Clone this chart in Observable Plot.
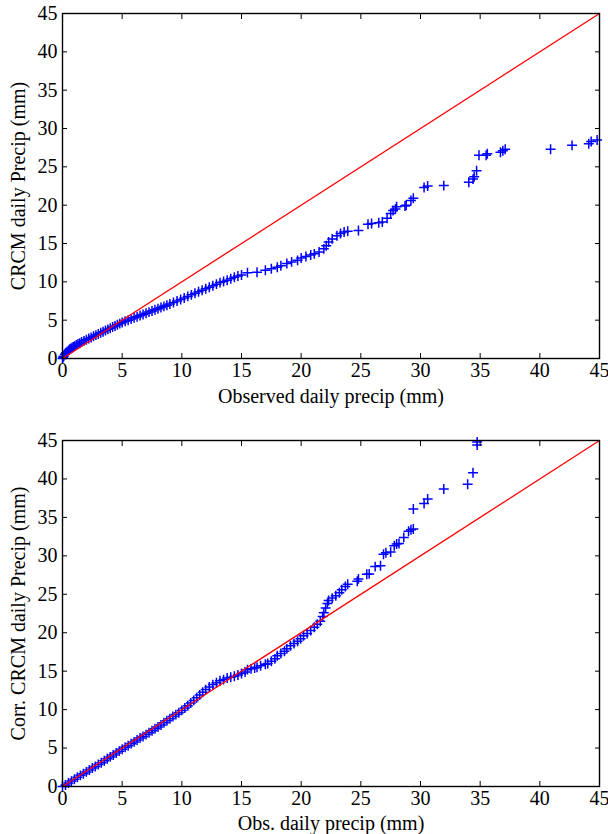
<!DOCTYPE html>
<html><head><meta charset="utf-8">
<script src="https://cdn.jsdelivr.net/npm/d3@7"></script>
<script src="https://cdn.jsdelivr.net/npm/@observablehq/plot@0.6"></script>
<style>body{margin:0;background:#fff} #chart svg{display:block}</style>
</head><body><div id="chart"></div>
<script>
// Axis ticks (mm)
const axisTicks = [0, 5, 10, 15, 20, 25, 30, 35, 40, 45];
// 1:1 reference line end points
const refLine = [0, 45];

// Top panel: observed vs CRCM daily precip quantiles (mm)
const obsTop = [0, 0.05, 0.1, 0.2, 0.3, 0.4, 0.5, 0.6, 0.7, 0.8, 0.9, 1.0, 1.15, 1.3, 1.45, 1.6, 1.8, 2.0, 2.2, 2.4, 2.6, 2.8, 3.0, 3.2, 3.4, 3.6, 3.8, 4.0, 4.2, 4.4, 4.6, 4.8, 5.0, 5.25, 5.5, 5.75, 6.0, 6.25, 6.5, 6.75, 7.0, 7.25, 7.5, 7.75, 8.0, 8.25, 8.5, 8.75, 9.0, 9.3, 9.6, 9.9, 10.2, 10.5, 10.8, 11.1, 11.4, 11.7, 12.0, 12.3, 12.6, 12.9, 13.2, 13.5, 13.8, 14.1, 14.4, 14.7, 15.0, 15.5, 16.3, 17.0, 17.5, 18.0, 18.3, 18.8, 19.2, 19.7, 20.0, 20.4, 20.8, 21.1, 21.5, 21.9, 22.1, 22.3, 22.6, 23.0, 23.3, 23.6, 23.9, 24.8, 25.6, 25.9, 26.5, 26.8, 27.2, 27.5, 27.7, 27.9, 28.0, 28.7, 28.8, 29.2, 29.4, 30.3, 30.6, 31.95, 34.05, 34.4, 34.5, 34.7, 34.9, 35.5, 35.6, 36.7, 36.9, 37.1, 40.9, 42.7, 44.1, 44.3, 44.8];
const crcmTop = [0, 0.15, 0.3, 0.55, 0.75, 0.9, 1.05, 1.2, 1.3, 1.4, 1.5, 1.6, 1.75, 1.9, 2.0, 2.15, 2.3, 2.45, 2.6, 2.75, 2.9, 3.05, 3.2, 3.35, 3.5, 3.65, 3.8, 3.95, 4.1, 4.25, 4.4, 4.55, 4.7, 4.85, 5.0, 5.15, 5.3, 5.45, 5.6, 5.75, 5.9, 6.05, 6.2, 6.35, 6.5, 6.65, 6.8, 6.95, 7.1, 7.3, 7.5, 7.7, 7.9, 8.1, 8.3, 8.5, 8.7, 8.9, 9.1, 9.3, 9.5, 9.7, 9.9, 10.05, 10.2, 10.4, 10.6, 10.75, 10.9, 11.2, 11.25, 11.5, 11.7, 11.9, 12.1, 12.4, 12.6, 12.8, 13.1, 13.3, 13.5, 13.65, 13.9, 14.3, 14.7, 15.2, 15.6, 16.0, 16.3, 16.5, 16.6, 16.7, 17.5, 17.6, 17.7, 17.8, 18.3, 18.9, 19.3, 19.5, 19.8, 19.9, 20.0, 20.6, 20.9, 22.3, 22.5, 22.55, 23.0, 23.4, 23.7, 24.5, 26.5, 26.5, 26.7, 26.9, 27.1, 27.3, 27.3, 27.8, 28.0, 28.3, 28.5];

// Bottom panel: observed vs corrected CRCM daily precip quantiles (mm)
const obsBot = [0, 0.25, 0.5, 0.75, 1.0, 1.25, 1.5, 1.75, 2.0, 2.25, 2.5, 2.75, 3.0, 3.25, 3.5, 3.75, 4.0, 4.25, 4.5, 4.75, 5.0, 5.25, 5.5, 5.75, 6.0, 6.25, 6.5, 6.75, 7.0, 7.25, 7.5, 7.75, 8.0, 8.25, 8.5, 8.75, 9.0, 9.25, 9.5, 9.75, 10.0, 10.25, 10.5, 10.75, 11.0, 11.25, 11.5, 11.75, 12.0, 12.3, 12.6, 12.9, 13.2, 13.5, 13.8, 14.1, 14.4, 14.7, 15.0, 15.3, 15.5, 15.8, 16.1, 16.3, 16.6, 17.0, 17.2, 17.5, 17.8, 18.0, 18.3, 18.6, 18.8, 19.1, 19.4, 19.7, 19.95, 20.2, 20.5, 20.8, 21.1, 21.35, 21.6, 21.8, 21.9, 22.05, 22.2, 22.3, 22.6, 22.9, 23.2, 23.4, 23.7, 23.9, 24.7, 24.8, 25.5, 25.7, 26.2, 26.65, 26.9, 27.1, 27.5, 27.8, 28.0, 28.2, 28.6, 29.0, 29.2, 29.4, 29.4, 30.3, 30.6, 31.95, 33.95, 34.4, 34.75, 34.75];
const corrBot = [0, 0.2, 0.45, 0.7, 0.95, 1.2, 1.45, 1.65, 1.9, 2.15, 2.4, 2.6, 2.85, 3.1, 3.35, 3.6, 3.85, 4.1, 4.35, 4.6, 4.85, 5.1, 5.3, 5.55, 5.8, 6.05, 6.3, 6.5, 6.75, 7.0, 7.25, 7.5, 7.75, 8.0, 8.3, 8.55, 8.8, 9.1, 9.35, 9.6, 9.9, 10.2, 10.5, 10.85, 11.2, 11.55, 11.9, 12.25, 12.6, 12.95, 13.25, 13.5, 13.75, 13.9, 14.1, 14.2, 14.35, 14.5, 14.7, 14.9, 15.2, 15.3, 15.4, 15.5, 15.7, 15.9, 16.0, 16.3, 16.6, 17.0, 17.3, 17.6, 17.9, 18.3, 18.6, 18.9, 19.2, 19.6, 19.9, 20.3, 20.7, 21.1, 21.5, 22.1, 22.6, 23.2, 23.8, 24.2, 24.5, 24.8, 25.2, 25.6, 26.0, 26.3, 26.7, 27.0, 27.6, 27.65, 28.6, 28.7, 30.2, 30.4, 30.5, 31.3, 31.55, 31.6, 32.4, 33.2, 33.4, 33.5, 36.1, 36.8, 37.4, 38.7, 39.3, 40.8, 44.4, 44.8];

const FONT = "'Liberation Serif', 'Times New Roman', Times, serif";

function panel({obs, mod, xLabel, yLabel, marginTop, marginBottom, xLabelOffset}) {
  const pts = obs.map((x, i) => ({x, y: mod[i]}));
  const ref = refLine.map(v => ({x: v, y: v}));
  return Plot.plot({
    width: 608, height: 417,
    marginLeft: 62, marginRight: 9, marginTop, marginBottom,
    style: {fontFamily: FONT, fontSize: "20px", color: "#000", background: "#fff", overflow: "visible"},
    x: {domain: [0, 45], nice: false},
    y: {domain: [0, 45], nice: false},
    marks: [
      Plot.dot(pts, {x: "x", y: "y", symbol: "plus", r: 3.3, stroke: "#0000ff", strokeWidth: 1.5}),
      Plot.line(ref, {x: "x", y: "y", stroke: "#ff0000", strokeWidth: 1.3}),
      Plot.frame({stroke: "#000", strokeWidth: 1.4}),
      Plot.axisX({ticks: axisTicks, anchor: "bottom", tickSize: 0, tickPadding: 4, label: xLabel, labelAnchor: "center", labelOffset: xLabelOffset, labelArrow: "none"}),
      Plot.axisX({ticks: axisTicks, anchor: "bottom", tickSize: -5, text: null, label: null}),
      Plot.axisX({ticks: axisTicks, anchor: "top", tickSize: -5, text: null, label: null}),
      Plot.axisY({ticks: axisTicks, anchor: "left", tickSize: 0, tickPadding: 5, label: yLabel, labelAnchor: "center", labelOffset: 52, labelArrow: "none"}),
      Plot.axisY({ticks: axisTicks, anchor: "left", tickSize: -5, text: null, label: null}),
      Plot.axisY({ticks: axisTicks, anchor: "right", tickSize: -5, text: null, label: null})
    ]
  });
}

const chart = document.getElementById("chart");
chart.append(panel({obs: obsTop, mod: crcmTop, xLabel: "Observed daily precip (mm)", yLabel: "CRCM daily Precip (mm)", marginTop: 13, marginBottom: 59, xLabelOffset: 44}));
chart.append(panel({obs: obsBot, mod: corrBot, xLabel: "Obs. daily precip (mm)", yLabel: "Corr. CRCM daily Precip (mm)", marginTop: 23, marginBottom: 48, xLabelOffset: 43}));
</script>
</body></html>
